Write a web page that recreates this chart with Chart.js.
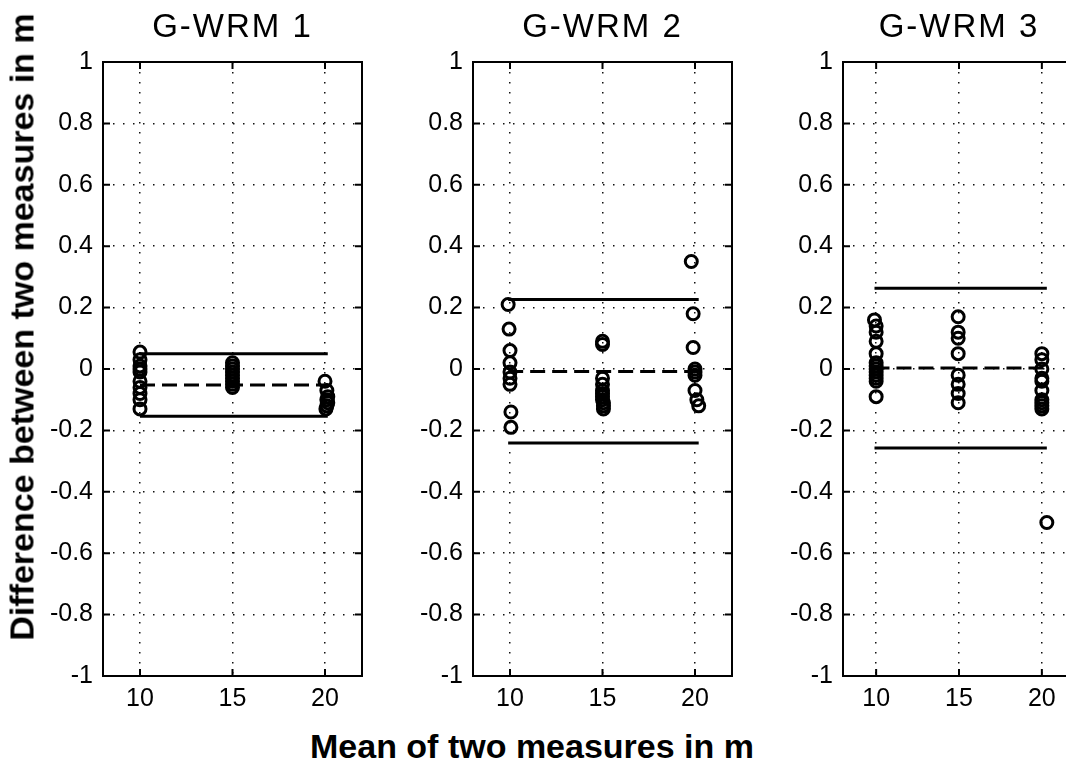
<!DOCTYPE html>
<html>
<head>
<meta charset="utf-8">
<script src="https://cdn.jsdelivr.net/npm/chart.js@4.4.1/dist/chart.umd.min.js"></script>
<style>
html, body { margin: 0; padding: 0; background: #fff; overflow: hidden; width: 1066px; height: 767px; position: relative; }
canvas { position: absolute; top: 0; }
.lab { position: absolute; font: bold 34px "Liberation Sans", Arial, sans-serif; color: #000; white-space: nowrap; }
</style>
</head>
<body>
<canvas id="c1" width="339" height="726" style="left:33px"></canvas>
<canvas id="c2" width="339" height="726" style="left:403px"></canvas>
<canvas id="c3" width="312" height="726" style="left:773px"></canvas>
<div class="lab" style="left:532px;top:746px;transform:translate(-50%,-50%)">Mean of two measures in m</div>
<div class="lab" style="left:22px;top:327px;transform:translate(-50%,-50%) rotate(-90deg)">Difference between two measures in m</div>
<script>
// axis ticks and titles
const xTicks = [10, 15, 20];
const titles = ['G-WRM 1', 'G-WRM 2', 'G-WRM 3'];

// G-WRM 1: mean of two measures (x) and difference (y)
const g1Mean = [10, 10, 10, 10, 10, 10, 10, 10, 10, 10,
                15, 15, 15, 15, 15, 15, 15, 15, 15,
                20, 20.1, 20.15, 20.1, 20.15, 20.1, 20.05];
const g1Diff = [0.055, 0.03, 0.01, 0, -0.01, -0.04, -0.06, -0.08, -0.10, -0.13,
                0.02, 0.01, 0, -0.01, -0.02, -0.03, -0.04, -0.05, -0.06,
                -0.04, -0.07, -0.09, -0.10, -0.11, -0.12, -0.13];

// G-WRM 2
const g2Mean = [9.9, 9.95, 10, 10, 10, 10, 10, 10.05, 10.05,
                15, 15, 15, 15, 15, 15, 15, 15, 15.05, 15.05, 15.05,
                19.8, 19.9, 19.9, 20, 20, 20, 20, 20.1, 20.2];
const g2Diff = [0.21, 0.13, 0.06, 0.02, -0.01, -0.03, -0.05, -0.14, -0.19,
                0.09, 0.08, -0.03, -0.05, -0.07, -0.08, -0.09, -0.10, -0.11, -0.12, -0.13,
                0.35, 0.18, 0.07, 0, -0.01, -0.02, -0.07, -0.10, -0.12];

// G-WRM 3
const g3Mean = [9.9, 10, 10, 10, 10, 10, 10, 10, 10, 10, 10, 10, 10,
                14.95, 14.95, 14.95, 14.95, 14.95, 14.95, 14.95, 14.95,
                20, 20, 20, 20, 20, 20, 20, 20, 20, 20, 20.3];
const g3Diff = [0.16, 0.14, 0.12, 0.09, 0.05, 0.02, 0.01, 0, -0.01, -0.02, -0.03, -0.04, -0.09,
                0.17, 0.12, 0.10, 0.05, -0.02, -0.05, -0.08, -0.11,
                0.05, 0.03, 0, -0.03, -0.04, -0.07, -0.10, -0.11, -0.12, -0.13, -0.50];

// mean difference and limits of agreement per panel
const meanDiff = [-0.052, -0.008, 0.003];
const upperLoA = [0.05, 0.226, 0.263];
const lowerLoA = [-0.154, -0.241, -0.257];

const FONT = '"Liberation Sans", Arial, sans-serif';

// matlab style box, inward ticks and panel title
const boxPlugin = {
    id: 'matBox',
    afterDraw(chart, args, opts) {
        const { ctx, chartArea: a, scales: { x, y } } = chart;
        ctx.save();
        ctx.strokeStyle = '#000';
        ctx.lineWidth = 2;
        ctx.strokeRect(a.left, a.top, a.right - a.left, a.bottom - a.top);
        ctx.beginPath();
        x.ticks.forEach(t => {
            const px = x.getPixelForValue(t.value);
            ctx.moveTo(px, a.bottom); ctx.lineTo(px, a.bottom - 7);
            ctx.moveTo(px, a.top); ctx.lineTo(px, a.top + 7);
        });
        y.ticks.forEach(t => {
            const py = y.getPixelForValue(t.value);
            ctx.moveTo(a.left, py); ctx.lineTo(a.left + 7, py);
            ctx.moveTo(a.right, py); ctx.lineTo(a.right - 7, py);
        });
        ctx.stroke();
        ctx.fillStyle = '#000';
        ctx.font = '33px ' + FONT;
        ctx.letterSpacing = '2px';
        ctx.textAlign = 'center';
        ctx.textBaseline = 'middle';
        ctx.fillText(opts.text, (a.left + a.right) / 2, 28);
        ctx.restore();
    }
};

function makePanel(id, idx, xs, ys) {
    const pts = xs.map((v, i) => ({ x: v, y: ys[i] }));
    const x0 = Math.min(...xs), x1 = Math.max(...xs);
    const hline = (v, dash) => ({
        data: [{ x: x0, y: v }, { x: x1, y: v }],
        showLine: true,
        borderColor: '#000',
        borderWidth: 3,
        borderDash: dash,
        pointRadius: 0
    });
    new Chart(document.getElementById(id), {
        type: 'scatter',
        data: {
            datasets: [
                {
                    data: pts,
                    pointStyle: 'circle',
                    pointRadius: 6,
                    borderWidth: 3,
                    borderColor: '#000',
                    backgroundColor: 'rgba(0,0,0,0)'
                },
                hline(upperLoA[idx], []),
                hline(meanDiff[idx], [15, 7]),
                hline(lowerLoA[idx], [])
            ]
        },
        options: {
            responsive: false,
            animation: false,
            layout: { padding: { top: 62, right: 10, left: 0, bottom: 0 } },
            plugins: {
                legend: { display: false },
                tooltip: { enabled: false },
                matBox: { text: titles[idx] }
            },
            scales: {
                x: {
                    type: 'linear',
                    min: 8,
                    max: 22,
                    afterBuildTicks: s => { s.ticks = xTicks.map(v => ({ value: v })); },
                    afterFit: s => { s.height = 50; },
                    ticks: { font: { family: FONT, size: 25 }, color: '#000', padding: 8 },
                    grid: { color: '#111', lineWidth: 1.5, drawTicks: false },
                    border: { display: false, dash: [1.5, 8.5] }
                },
                y: {
                    min: -1,
                    max: 1,
                    afterFit: s => { s.width = 70; },
                    ticks: {
                        stepSize: 0.2,
                        font: { family: FONT, size: 25 },
                        color: '#000',
                        padding: 10,
                        callback: v => String(Number(v.toFixed(1)))
                    },
                    grid: { color: '#111', lineWidth: 1.5, drawTicks: false },
                    border: { display: false, dash: [1.5, 8.5] }
                }
            }
        },
        plugins: [boxPlugin]
    });
}

makePanel('c1', 0, g1Mean, g1Diff);
makePanel('c2', 1, g2Mean, g2Diff);
makePanel('c3', 2, g3Mean, g3Diff);
</script>
</body>
</html>
